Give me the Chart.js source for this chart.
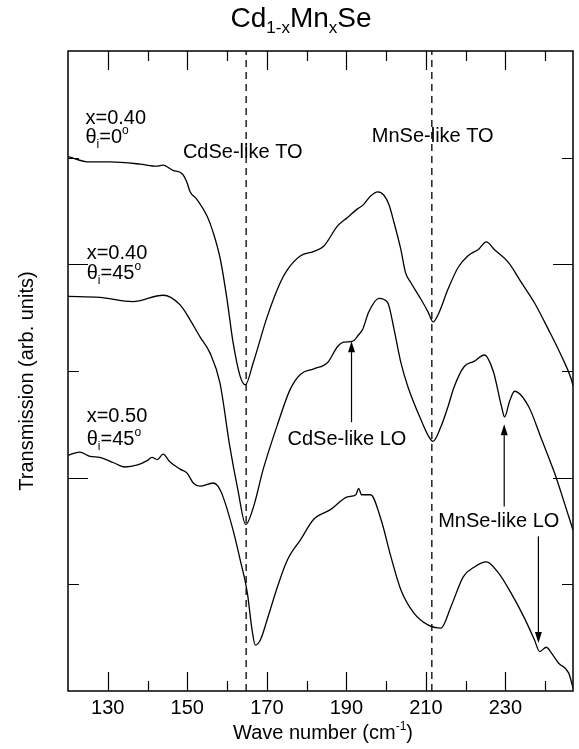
<!DOCTYPE html>
<html>
<head>
<meta charset="utf-8">
<script src="https://cdn.jsdelivr.net/npm/chart.js@4.4.1/dist/chart.umd.min.js"></script>
<style>
  html, body { margin: 0; padding: 0; background: #fff; }
</style>
</head>
<body>
<canvas id="chart" width="579" height="749"></canvas>
<script>
// wave number (cm-1) / transmission (arb. units, curves stacked)
const xA = [120.0, 125.4, 130.5, 138.1, 142.3, 143.9, 146.4, 148.7, 149.9, 150.7, 152.4, 155.0, 156.5, 158.3, 160.0, 161.5, 163.3, 164.6, 166.6, 170.1, 173.4, 175.2, 178.5, 181.7, 184.3, 187.8, 190.3, 192.8, 194.3, 196.1, 197.9, 199.4, 200.7, 202.0, 203.7, 204.9, 206.2, 208.8, 210.6, 211.8, 213.1, 215.6, 218.1, 220.6, 223.2, 225.2, 227.2, 230.7, 234.0, 237.3, 240.8, 244.1, 246.6, 247.0];
const yA = [5.01, 4.96, 4.96, 4.94, 4.92, 4.93, 4.88, 4.85, 4.77, 4.68, 4.61, 4.45, 4.30, 4.05, 3.67, 3.27, 2.95, 2.87, 3.08, 3.51, 3.83, 3.95, 4.08, 4.12, 4.17, 4.36, 4.44, 4.52, 4.56, 4.64, 4.68, 4.65, 4.56, 4.39, 4.14, 3.92, 3.83, 3.67, 3.55, 3.46, 3.53, 3.77, 3.97, 4.08, 4.14, 4.21, 4.14, 4.02, 3.83, 3.64, 3.39, 3.14, 2.92, 2.86];

const xB = [120.0, 128.0, 136.3, 143.9, 148.2, 150.7, 153.2, 155.7, 158.2, 160.7, 162.7, 164.7, 166.6, 169.1, 172.7, 175.9, 178.5, 181.8, 185.3, 187.8, 189.3, 191.6, 193.1, 194.1, 195.6, 198.2, 200.4, 202.0, 203.7, 205.5, 208.8, 210.8, 211.8, 213.8, 215.6, 217.1, 219.6, 222.1, 224.7, 227.0, 229.0, 229.8, 231.0, 232.3, 235.8, 239.1, 242.3, 244.0, 247.0];
const yB = [3.70, 3.69, 3.65, 3.71, 3.62, 3.48, 3.32, 3.17, 2.89, 2.29, 1.89, 1.56, 1.72, 2.08, 2.50, 2.83, 2.97, 3.02, 3.08, 3.23, 3.27, 3.28, 3.34, 3.39, 3.55, 3.68, 3.64, 3.39, 3.08, 2.85, 2.54, 2.38, 2.34, 2.48, 2.67, 2.85, 3.04, 3.09, 3.15, 2.99, 2.67, 2.57, 2.71, 2.81, 2.67, 2.36, 2.05, 1.86, 1.51];

const xC = [120.1, 122.9, 125.5, 128.0, 131.5, 134.3, 137.5, 139.9, 141.1, 142.5, 143.9, 145.6, 148.2, 150.0, 151.5, 153.2, 156.5, 157.7, 159.0, 161.5, 163.3, 165.1, 166.3, 167.1, 168.4, 170.1, 172.7, 175.2, 178.5, 181.8, 186.0, 190.3, 192.4, 193.1, 193.8, 196.1, 198.7, 201.2, 203.7, 207.0, 210.5, 213.8, 216.3, 219.4, 222.1, 225.2, 228.2, 231.4, 234.7, 237.3, 238.6, 240.3, 241.5, 243.4, 245.9, 247.0];
const yC = [2.21, 2.24, 2.20, 2.19, 2.14, 2.10, 2.12, 2.16, 2.19, 2.17, 2.22, 2.15, 2.08, 2.04, 1.95, 1.92, 1.95, 1.92, 1.82, 1.51, 1.23, 0.92, 0.57, 0.43, 0.48, 0.67, 0.98, 1.23, 1.42, 1.61, 1.70, 1.82, 1.84, 1.90, 1.84, 1.84, 1.61, 1.26, 0.95, 0.73, 0.62, 0.59, 0.79, 1.07, 1.16, 1.21, 1.11, 0.92, 0.69, 0.48, 0.37, 0.41, 0.36, 0.26, 0.17, 0.03];

// phonon positions (dashed lines)
const modeTO = [164.8, 211.5];

// axis ticks
const xMajor = [130, 150, 170, 190, 210, 230];
const xMinor = [140, 160, 180, 200, 220, 240];
const yTicks = [1, 2, 3, 4, 5];

// arrows: x, tail y, tip y
const arrows = [
    [191.3, 2.52, 3.28],
    [229.7, 1.73, 2.50],
    [238.3, 1.45, 0.45]
];

const FONT = "'Liberation Sans', Arial, Helvetica, sans-serif";
const SUB = 12;

// text labels in data coords (left edge, baseline); parts: [text, size, dy]
const labels = [
    { x: 124.4, y: 5.32, parts: [['x=0.40', 20, 0]] },
    { x: 124.4, y: 5.14, parts: [['θ', 20, 0], ['i', SUB, 5], ['=0', 20, 0], ['o', SUB, -9]] },
    { x: 148.9, y: 5.00, parts: [['CdSe-like TO', 20, 0]] },
    { x: 196.4, y: 5.15, parts: [['MnSe-like TO', 20, 0]] },
    { x: 124.7, y: 4.05, parts: [['x=0.40', 20, 0]] },
    { x: 124.7, y: 3.86, parts: [['θ', 20, 0], ['i', SUB, 5], ['=45', 20, 0], ['o', SUB, -9]] },
    { x: 175.2, y: 2.31, parts: [['CdSe-like LO', 20, 0]] },
    { x: 124.7, y: 2.52, parts: [['x=0.50', 20, 0]] },
    { x: 124.7, y: 2.31, parts: [['θ', 20, 0], ['i', SUB, 5], ['=45', 20, 0], ['o', SUB, -9]] },
    { x: 213.1, y: 1.54, parts: [['MnSe-like LO', 20, 0]] }
];

function pts(xs, ys) {
    return xs.map((v, i) => ({ x: v, y: ys[i] }));
}

function richText(ctx, parts, x, y, center) {
    let w = 0;
    parts.forEach(p => { ctx.font = p[1] + 'px ' + FONT; w += ctx.measureText(p[0]).width; });
    let cx = center ? x - w / 2 : x;
    parts.forEach(p => {
        ctx.font = p[1] + 'px ' + FONT;
        ctx.fillText(p[0], cx, y + p[2]);
        cx += ctx.measureText(p[0]).width;
    });
}

const overlay = {
    id: 'overlay',
    afterDraw(chart) {
        const { ctx, chartArea: a, scales } = chart;
        const px = v => scales.x.getPixelForValue(v);
        const py = v => scales.y.getPixelForValue(v);
        ctx.save();
        ctx.strokeStyle = '#000';
        ctx.fillStyle = '#000';

        // frame
        ctx.lineWidth = 1.5;
        ctx.strokeRect(a.left, a.top, a.right - a.left, a.bottom - a.top);

        // inward ticks on all four sides
        ctx.lineWidth = 1.2;
        ctx.beginPath();
        const xt = (v, len) => {
            const p = Math.round(px(v)) + 0.5;
            ctx.moveTo(p, a.bottom); ctx.lineTo(p, a.bottom - len);
            ctx.moveTo(p, a.top); ctx.lineTo(p, a.top + len);
        };
        xMajor.forEach(v => xt(v, 19));
        xMinor.forEach(v => xt(v, 10));
        yTicks.forEach(v => {
            const p = Math.round(py(v)) + 0.5;
            const len = v % 2 === 0 ? 20 : 11;
            ctx.moveTo(a.left, p); ctx.lineTo(a.left + len, p);
            ctx.moveTo(a.right, p); ctx.lineTo(a.right - len, p);
        });
        ctx.stroke();

        // arrows
        ctx.lineWidth = 1.2;
        arrows.forEach(([x, tail, tip]) => {
            const X = px(x), Y0 = py(tail), Y1 = py(tip);
            const dir = Y1 < Y0 ? -1 : 1;
            const head = 11;
            ctx.beginPath();
            ctx.moveTo(X, Y0);
            ctx.lineTo(X, Y1 - dir * head);
            ctx.stroke();
            ctx.beginPath();
            ctx.moveTo(X, Y1);
            ctx.lineTo(X - 3.5, Y1 - dir * head);
            ctx.lineTo(X + 3.5, Y1 - dir * head);
            ctx.closePath();
            ctx.fill();
        });

        // labels
        ctx.textBaseline = 'alphabetic';
        ctx.textAlign = 'left';
        labels.forEach(l => richText(ctx, l.parts, px(l.x), py(l.y), false));

        // title
        richText(ctx, [['Cd', 28, 0], ['1-x', 17, 6], ['Mn', 28, 0], ['x', 17, 6], ['Se', 28, 0]], 301, 27, true);

        // x axis title
        richText(ctx, [['Wave number (cm', 20, 0], ['-1', 12, -9], [')', 20, 0]], 323, 739, true);

        // y axis title
        ctx.save();
        ctx.translate(33, (a.top + a.bottom) / 2 + 10);
        ctx.rotate(-Math.PI / 2);
        richText(ctx, [['Transmission (arb. units)', 20, 0]], 0, 0, true);
        ctx.restore();

        ctx.restore();
    }
};

const lineStyle = {
    borderColor: '#000',
    borderWidth: 1.3,
    pointRadius: 0,
    fill: false,
    cubicInterpolationMode: 'monotone'
};

const datasets = [
    Object.assign({ data: pts(xA, yA) }, lineStyle),
    Object.assign({ data: pts(xB, yB) }, lineStyle),
    Object.assign({ data: pts(xC, yC) }, lineStyle)
];
modeTO.forEach(v => {
    datasets.push({
        data: [{ x: v, y: 0 }, { x: v, y: 6 }],
        borderColor: '#000',
        borderWidth: 1.3,
        borderDash: [7, 5],
        pointRadius: 0,
        fill: false
    });
});

new Chart(document.getElementById('chart'), {
    type: 'line',
    data: { datasets: datasets },
    options: {
        responsive: false,
        animation: false,
        events: [],
        layout: { padding: { left: 68, right: 6, top: 51, bottom: 0 } },
        plugins: { legend: { display: false }, title: { display: false }, tooltip: { enabled: false } },
        scales: {
            x: {
                type: 'linear',
                min: 120,
                max: 247,
                afterBuildTicks: s => { s.ticks = xMajor.map(v => ({ value: v })); },
                afterFit: s => { s.height = 58; },
                grid: { display: false, drawTicks: false },
                border: { display: false },
                ticks: {
                    color: '#000',
                    padding: 5,
                    maxRotation: 0,
                    autoSkip: false,
                    font: { family: FONT, size: 20 }
                }
            },
            y: {
                type: 'linear',
                display: false,
                min: 0,
                max: 6
            }
        }
    },
    plugins: [overlay]
});
</script>
</body>
</html>
